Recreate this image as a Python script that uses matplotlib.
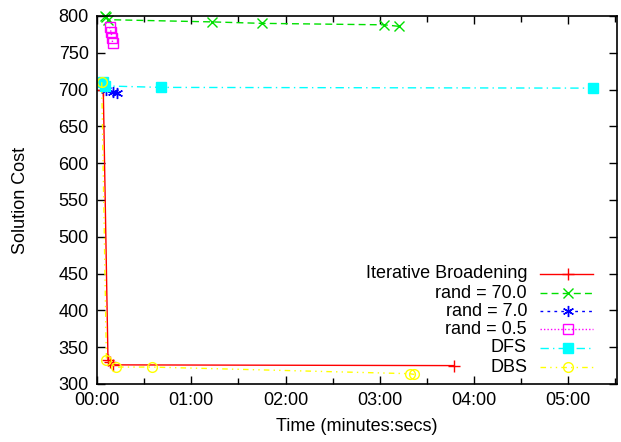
import matplotlib
matplotlib.use("Agg")
import matplotlib.pyplot as plt
from matplotlib.ticker import FuncFormatter, MultipleLocator
from matplotlib.lines import Line2D

plt.rcParams['font.family'] = ['Liberation Sans', 'DejaVu Sans']

# time in seconds, cost
ib_t = [4, 7, 8, 10, 227]
ib_c = [700, 332, 330, 326, 325]
r70_t = [5, 6, 7, 73, 105, 183, 192]
r70_c = [800, 798, 795, 792, 790, 788, 786]
r7_t = [6, 10, 13]
r7_c = [700, 697, 695]
r05_t = [8, 9, 9.5, 10]
r05_c = [785, 778, 770, 763]
dfs_t = [4, 5, 41, 316]
dfs_c = [710, 705, 703, 702]
dbs_t = [3, 6, 12, 35, 199, 202]
dbs_c = [710, 333, 323, 323, 314, 313]

labels = ["Iterative Broadening", "rand = 70.0", "rand = 7.0", "rand = 0.5", "DFS", "DBS"]

FS = 13

fig = plt.figure(figsize=(6.21, 4.42), dpi=100)
ax = fig.add_axes([97/621, 58/442, 520/621, 368/442])

series = [
    (ib_t, ib_c, dict(color='#ff0000', linestyle='-', marker='+', ms=8, mfc='none')),
    (r70_t, r70_c, dict(color='#00e000', linestyle=(0, (5, 3)), marker='x', ms=7, mfc='none')),
    (r7_t, r7_c, dict(color='#0000ff', linestyle=(0, (2, 3)), marker=(6, 2, 0), ms=8, mfc='none')),
    (r05_t, r05_c, dict(color='#ff00ff', linestyle=(0, (1, 1.5)), marker='s', ms=7, mfc='none')),
    (dfs_t, dfs_c, dict(color='#00ffff', linestyle=(0, (6, 3, 1, 3)), marker='s', ms=7)),
    (dbs_t, dbs_c, dict(color='#ffff00', linestyle=(0, (4, 3, 1, 3, 1, 3)), marker='o', ms=7, mfc='none')),
]

for t, c, st in series:
    ax.plot(t, c, lw=1, clip_on=False, **st)

ax.set_xlim(0, 331)
ax.set_ylim(300, 800)
ax.xaxis.set_major_locator(MultipleLocator(60))
ax.xaxis.set_minor_locator(MultipleLocator(30))
ax.yaxis.set_major_locator(MultipleLocator(50))
ax.xaxis.set_major_formatter(FuncFormatter(lambda v, p: "%02d:%02d" % (int(v) // 60, int(v) % 60)))
ax.tick_params(which='both', direction='in', top=True, right=True, labelsize=FS, width=1, color='black')
ax.tick_params(which='major', length=6, pad=6)
ax.tick_params(which='minor', length=4)
for s in ax.spines.values():
    s.set_linewidth(1.2)
ax.set_xlabel("Time (minutes:secs)", fontsize=FS, labelpad=6)
ax.set_ylabel("Solution Cost", fontsize=FS, labelpad=21)

# manual gnuplot-style legend (right-aligned text)
def fx(px):
    return (px - 97) / 520
def fy(py):
    return (442 - 58 - py) / 368

rows = [274, 293, 311, 329, 348, 367]
for (t, c, st), lab, py in zip(series, labels, rows):
    y = fy(py)
    ax.text(fx(527), y, lab, transform=ax.transAxes, ha='right', va='center', fontsize=FS)
    stl = dict(st)
    ax.add_line(Line2D([fx(540), fx(593)], [y, y], transform=ax.transAxes, lw=1,
                       color=stl['color'], linestyle=stl['linestyle']))
    ax.add_line(Line2D([fx(568)], [y], transform=ax.transAxes, color=stl['color'],
                       marker=stl['marker'], ms=stl['ms'], mfc=stl.get('mfc', stl['color']), linestyle='none'))

fig.savefig("out.png", dpi=100)
